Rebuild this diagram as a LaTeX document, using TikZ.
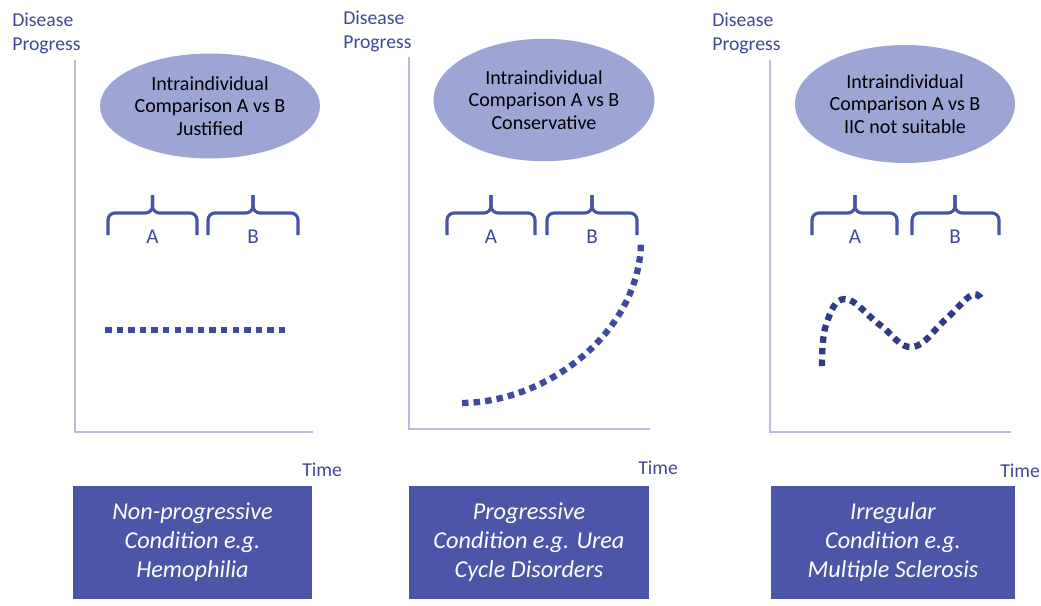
\documentclass[tikz,border=0pt]{standalone}
\usepackage{fontspec}
\setmainfont{Carlito}
\usepackage{xcolor}
\usepackage{tikz}
\usetikzlibrary{shapes.geometric,shapes,positioning}
\definecolor{axisgrey}{HTML}{B7BCDC}
\definecolor{bubble}{HTML}{9DA5D5}
\definecolor{boxblue}{HTML}{4B56A8}
\definecolor{labelblue}{HTML}{3F4896}
\definecolor{braceblue}{HTML}{4654A6}
\definecolor{dotblue}{HTML}{3E4AA0}
\definecolor{darkdot}{HTML}{2F3B84}
\tikzstyle{axe}=[draw=axisgrey, line width=1.1pt]
\tikzstyle{etiquette}=[text=labelblue, font=\fontsize{11.2}{13.5}\selectfont, align=left, inner sep=0pt]
\tikzstyle{bulle}=[ellipse, fill=bubble, inner sep=0pt, align=center, font=\fontsize{11.4}{13}\selectfont]
\tikzstyle{cadre}=[rectangle, fill=boxblue, text=white, inner sep=0pt, align=center, minimum height=2.26cm, font=\fontsize{13.8}{16.5}\selectfont\itshape]
\tikzstyle{accolade}=[draw=braceblue, line width=1.8pt, rounded corners=4pt]
\tikzstyle{lettre}=[text=labelblue, font=\fontsize{12}{13}\selectfont, inner sep=0pt]
\tikzstyle{pointille}=[draw=dotblue, line width=3.6pt, dash pattern=on 3.7pt off 2.9pt]

\begin{document}
\begin{tikzpicture}[x=0.02cm, y=-0.02cm]
\useasboundingbox (0,0) rectangle (1041,605);

% Non-progressive
\node[etiquette, anchor=north west] (dp1) at (12,13) {Disease\\Progress};
\draw[axe] (75,60) |- (313,432);
\node[etiquette, anchor=west] (t1) at (302,470) {Time};
\node[bulle, minimum width=4.4cm, minimum height=2.1cm] (b1) at (210,106) {Intraindividual\\Comparison A vs B\\Justified};
\draw[accolade] (108,235) |- (152.5,213) -- (152.5,195);
\draw[accolade] (197,235) |- (152.5,213) -- (152.5,195);
\draw[accolade] (208,235) |- (253,213) -- (253,195);
\draw[accolade] (298,235) |- (253,213) -- (253,195);
\node[lettre] (a1) at (152.5,237) {A};
\node[lettre] (bb1) at (253,237) {B};
\draw[pointille] (105,330) -- (289,330);
\node[cadre, minimum width=4.78cm] (c1) at (192.5,542.5) {Non-progressive\\Condition e.g.\\Hemophilia};

% Progressive
\node[etiquette, anchor=north west] (dp2) at (343,11) {Disease\\Progress};
\draw[axe] (409,57) |- (650,429);
\node[etiquette, anchor=west] (t2) at (638,468) {Time};
\node[bulle, minimum width=4.42cm, minimum height=2.45cm] (b2) at (544,100) {Intraindividual\\Comparison A vs B\\Conservative};
\draw[accolade] (447,235) |- (491,213) -- (491,195);
\draw[accolade] (535,235) |- (491,213) -- (491,195);
\draw[accolade] (547,235) |- (592,213) -- (592,195);
\draw[accolade] (637,235) |- (592,213) -- (592,195);
\node[lettre] (a2) at (491,237) {A};
\node[lettre] (bb2) at (592,237) {B};
\draw[pointille] (462,403) .. controls (550,402) and (640,330) .. (641,242);
\node[cadre, minimum width=4.8cm] (c2) at (529,542.5) {Progressive\\Condition e.g. Urea\\Cycle Disorders};

% Irregular
\node[etiquette, anchor=north west] (dp3) at (712,13) {Disease\\Progress};
\draw[axe] (770,60) |- (1011,432);
\node[etiquette, anchor=west] (t3) at (1000,471) {Time};
\node[bulle, minimum width=4.4cm, minimum height=2.36cm] (b3) at (905,104) {Intraindividual\\Comparison A vs B\\IIC not suitable};
\draw[accolade] (812,235) |- (855,213) -- (855,195);
\draw[accolade] (897,235) |- (855,213) -- (855,195);
\draw[accolade] (912,235) |- (955,213) -- (955,195);
\draw[accolade] (999,235) |- (955,213) -- (955,195);
\node[lettre] (a3) at (855,237) {A};
\node[lettre] (bb3) at (955,237) {B};
\draw[pointille, draw=darkdot] plot[smooth, tension=.7] coordinates {(822,366) (826,325) (845,299) (880,325) (912,347) (945,320) (972,295) (983,302)};
\node[cadre, minimum width=4.88cm] (c3) at (893,542.5) {Irregular\\Condition e.g.\\Multiple Sclerosis};

\end{tikzpicture}
\end{document}
